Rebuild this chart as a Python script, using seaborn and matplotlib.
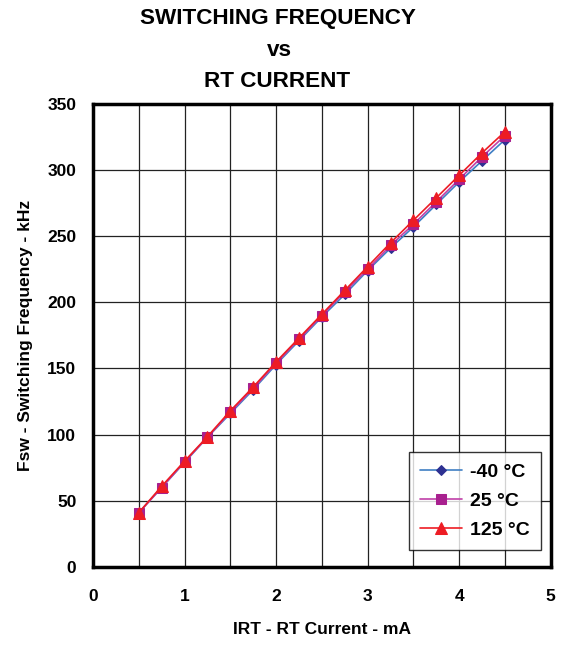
import matplotlib
matplotlib.use("Agg")
import matplotlib.pyplot as plt
import seaborn as sns
import pandas as pd

current_ma = [0.5, 0.75, 1.0, 1.25, 1.5, 1.75, 2.0, 2.25, 2.5, 2.75, 3.0, 3.25, 3.5, 3.75, 4.0, 4.25, 4.5]
fsw_m40 = [41, 60, 79, 98, 116, 134, 153, 171, 189, 206, 224, 241, 257, 274, 291, 307, 323]
fsw_25 = [41, 60, 79.5, 98, 117, 135, 154, 172, 190, 208, 225, 243, 259, 276, 293, 310, 326]
fsw_125 = [41, 61, 80, 98.5, 118, 136, 155, 173, 191, 209, 227, 245, 262, 279, 296, 313, 329]
series_labels = ["-40 °C", "25 °C", "125 °C"]

sns.set_style("white")
plt.rcParams['font.family'] = ['Liberation Sans', 'DejaVu Sans']
plt.rcParams['font.weight'] = 'bold'
plt.rcParams['text.color'] = 'black'
plt.rcParams['axes.labelcolor'] = 'black'
plt.rcParams['xtick.color'] = 'black'
plt.rcParams['ytick.color'] = 'black'

fig = plt.figure(figsize=(5.62, 6.45), dpi=100)
ax = fig.add_axes([0.1655, 0.121, 0.8145, 0.718])

styles = [
    dict(color="#3F7FC4", marker="D", mfc="#2E3192", mec="#2E3192", ms=5.5),
    dict(color="#C040A8", marker="s", mfc="#A8208F", mec="#A8208F", ms=7),
    dict(color="#ED1C24", marker="^", mfc="#ED1C24", mec="#ED1C24", ms=8),
]
for vals, lab, st in zip([fsw_m40, fsw_25, fsw_125], series_labels, styles):
    df = pd.DataFrame({"x": current_ma, "y": vals})
    sns.lineplot(data=df, x="x", y="y", ax=ax, color=st["color"], marker=st["marker"],
                 markerfacecolor=st["mfc"], markeredgecolor=st["mec"], markersize=st["ms"],
                 linewidth=1.2, label=lab, legend=False)

ax.set_xlim(0, 5)
ax.set_ylim(0, 350)
ax.set_xticks([0, 1, 2, 3, 4, 5])
ax.set_xticks([0.5 * i for i in range(11)], minor=True)
ax.set_yticks(range(0, 351, 50))
ax.grid(True, which="both", color="#222222", linewidth=0.9)
ax.set_axisbelow(True)
for s in ax.spines.values():
    s.set_linewidth(2.5)
    s.set_color("black")
ax.tick_params(axis="both", which="both", length=0, labelsize=12.5, labelcolor="black")
ax.tick_params(axis="x", pad=16)
ax.tick_params(axis="y", pad=12)
for t in ax.get_xticklabels() + ax.get_yticklabels():
    t.set_fontweight("bold")

ax.set_xlabel("IRT - RT Current - mA", fontsize=12.5, fontweight="bold", labelpad=13, color="black")
ax.set_ylabel("Fsw - Switching Frequency - kHz", fontsize=12.5, fontweight="bold", labelpad=10, color="black")

leg = ax.legend(loc="lower right", bbox_to_anchor=(0.978, 0.037), borderaxespad=0, fontsize=14,
                frameon=True, fancybox=False, edgecolor="black", handlelength=2.2,
                handletextpad=0.4, borderpad=0.55, labelspacing=0.6)
leg.get_frame().set_linewidth(1.0)
for t in leg.get_texts():
    t.set_fontweight("bold")
    t.set_color("black")

fig.text(0.495, 0.972, "SWITCHING FREQUENCY", ha="center", va="center", fontsize=16.2, fontweight="bold")
fig.text(0.497, 0.922, "vs", ha="center", va="center", fontsize=16.2, fontweight="bold")
fig.text(0.493, 0.874, "RT CURRENT", ha="center", va="center", fontsize=16.2, fontweight="bold")

fig.savefig("out.png", dpi=100)
